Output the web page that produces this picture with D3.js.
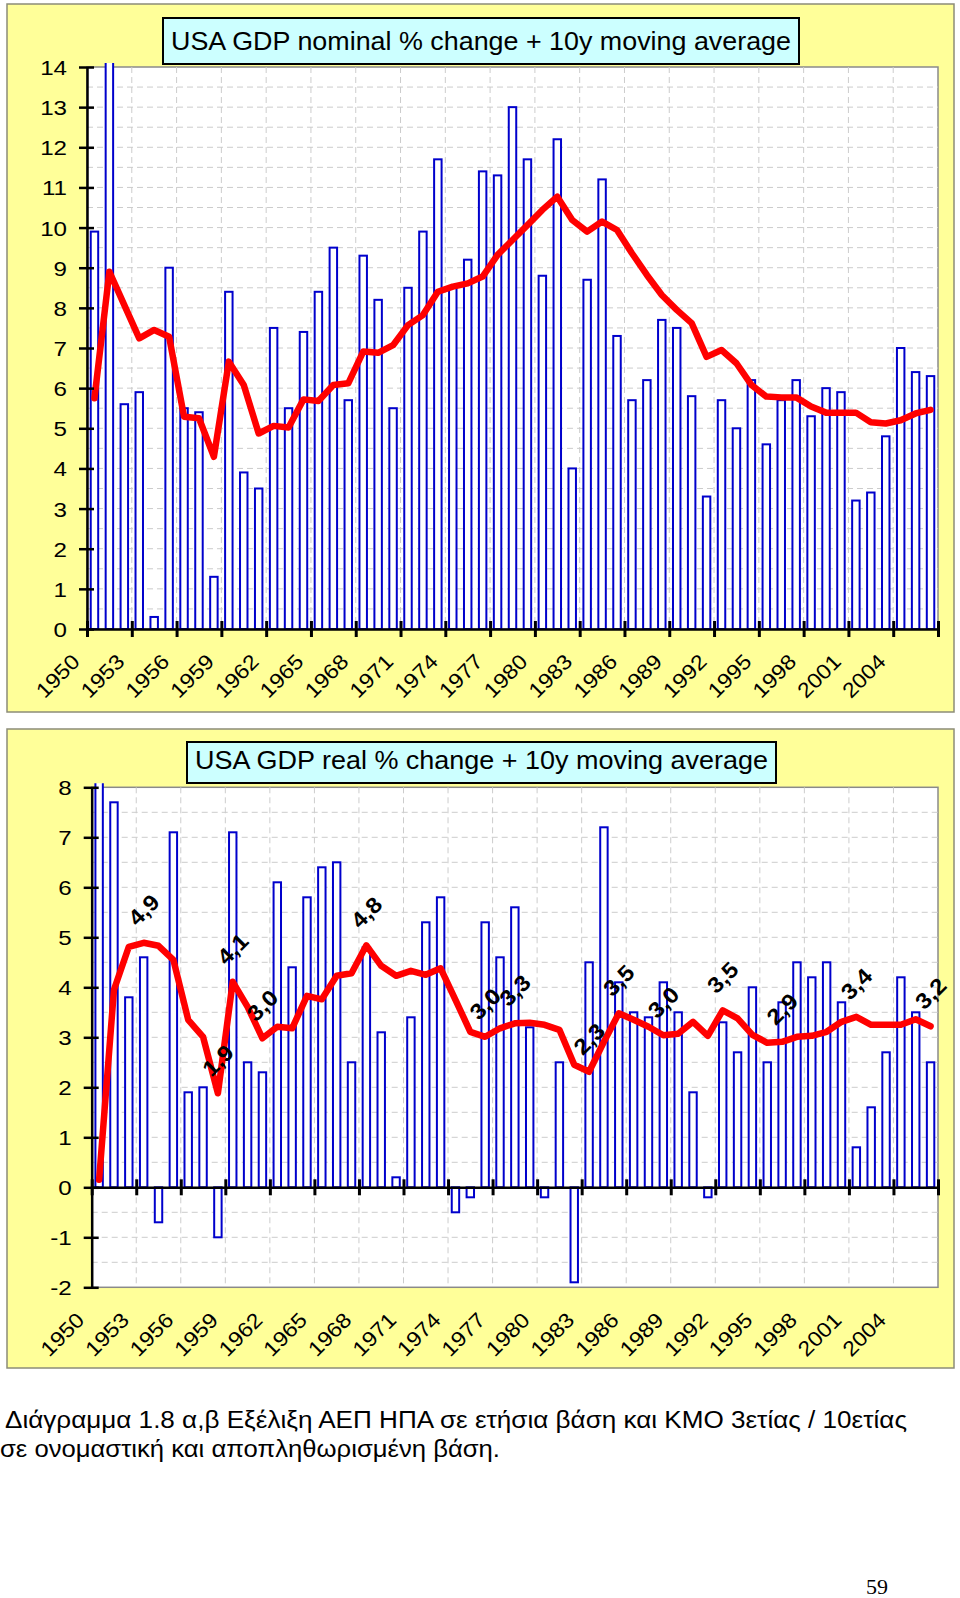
<!DOCTYPE html>
<html><head><meta charset="utf-8">
<script src="https://cdn.jsdelivr.net/npm/d3@7"></script>
<style>
body{margin:0;background:#fff}
svg{display:block}
text{font-family:"Liberation Sans",Arial,Helvetica,sans-serif;fill:#000}
</style>
</head><body>
<svg id="chart" width="960" height="1598"></svg>
<script>
// ---------------- data ----------------
const years = d3.range(1950, 2007);
const yearTicks = [1950,1953,1956,1959,1962,1965,1968,1971,1974,1977,1980,1983,1986,1989,1992,1995,1998,2001,2004];
const nominalTicks = [0,1,2,3,4,5,6,7,8,9,10,11,12,13,14];
const realTicks = [-2,-1,0,1,2,3,4,5,6,7,8];

const nominalChange = [9.9,15.7,5.6,5.9,0.3,9.0,5.5,5.4,1.3,8.4,
  3.9,3.5,7.5,5.5,7.4,8.4,9.5,5.7,9.3,8.2,
  5.5,8.5,9.9,11.7,8.5,9.2,11.4,11.3,13.0,11.7,
  8.8,12.2,4.0,8.7,11.2,7.3,5.7,6.2,7.7,7.5,
  5.8,3.3,5.7,5.0,6.2,4.6,5.7,6.2,5.3,6.0,
  5.9,3.2,3.4,4.8,7.0,6.4,6.3];
const nominalMA = [5.75,8.9,8.07,7.24,7.45,7.28,5.29,5.25,4.29,6.66,
  6.08,4.87,5.06,5.02,5.72,5.68,6.08,6.12,6.91,6.88,
  7.07,7.57,7.82,8.4,8.53,8.61,8.78,9.32,9.69,10.06,
  10.44,10.77,10.19,9.9,10.15,9.94,9.36,8.82,8.32,7.95,
  7.62,6.78,6.95,6.62,6.08,5.79,5.77,5.77,5.54,5.39,
  5.39,5.39,5.15,5.12,5.2,5.37,5.46];

const realChange = [8.7,7.7,3.8,4.6,-0.7,7.1,1.9,2.0,-1.0,7.1,
  2.5,2.3,6.1,4.4,5.8,6.4,6.5,2.5,4.8,3.1,
  0.2,3.4,5.3,5.8,-0.5,-0.2,5.3,4.6,5.6,3.2,
  -0.2,2.5,-1.9,4.5,7.2,4.1,3.5,3.4,4.1,3.5,
  1.9,-0.2,3.3,2.7,4.0,2.5,3.7,4.5,4.2,4.5,
  3.7,0.8,1.6,2.7,4.2,3.5,2.5];
const realMA = [0.15,3.95,4.81,4.89,4.83,4.55,3.35,3.01,1.88,4.11,
  3.61,2.98,3.21,3.18,3.83,3.76,4.23,4.28,4.84,4.43,
  4.23,4.33,4.25,4.38,3.75,3.11,3.01,3.18,3.28,3.29,
  3.25,3.15,2.45,2.31,2.91,3.48,3.35,3.21,3.04,3.07,
  3.31,3.03,3.54,3.38,3.05,2.89,2.91,3.01,3.03,3.11,
  3.31,3.41,3.25,3.25,3.25,3.36,3.22];
const realLabelYears = [1953,1958,1959,1961,1968,1976,1978,1983,1985,1988,1992,1996,2001,2006];

const titleNominal = "USA GDP nominal % change + 10y moving average";
const titleReal = "USA GDP real % change + 10y moving average";
const captionLines = ["Διάγραμμα 1.8 α,β Εξέλιξη ΑΕΠ ΗΠΑ σε ετήσια βάση και ΚΜΟ 3ετίας / 10ετίας",
  "σε ονομαστική και αποπληθωρισμένη βάση."];
const pageNumber = "59";

// ---------------- drawing ----------------
const svg = d3.select("#chart");
const BAR = "#0000cc", LINE = "#ff0000", GRID = "#cccccc";

function drawChart(cfg, idx) {
  const g = svg.append("g");
  // panel
  g.append("rect").attr("x", cfg.panel[0]).attr("y", cfg.panel[1])
    .attr("width", cfg.panel[2] - cfg.panel[0]).attr("height", cfg.panel[3] - cfg.panel[1])
    .attr("fill", "#ffff99").attr("stroke", "#8c8c78").attr("stroke-width", 1.5);

  const L = cfg.plot[0], T = cfg.plot[1], R = cfg.plot[2], B = cfg.plot[3];
  const y = d3.scaleLinear().domain(cfg.domain).range([B, T]);
  const xb = d3.scaleBand().domain(years).range([L, R]).paddingInner(0.5).paddingOuter(0.25);
  const xl = d3.scaleLinear().domain([1950, 2007]).range([L, R]);

  // plot bg
  g.append("rect").attr("x", L).attr("y", T).attr("width", R - L).attr("height", B - T)
    .attr("fill", "#fff").attr("stroke", "#8a8a8a").attr("stroke-width", 1.5);

  // grid
  const hg = d3.range(cfg.domain[0] * 2, cfg.domain[1] * 2 + 1).map(d => d / 2)
    .filter(d => d !== 0 && d !== cfg.domain[0] && d !== cfg.domain[1]);
  g.append("g").selectAll("line").data(hg).join("line")
    .attr("x1", L).attr("x2", R).attr("y1", d => y(d)).attr("y2", d => y(d))
    .attr("stroke", GRID).attr("stroke-width", 1).attr("stroke-dasharray", "6,4");
  g.append("g").selectAll("line").data(yearTicks.slice(1)).join("line")
    .attr("x1", d => xl(d)).attr("x2", d => xl(d)).attr("y1", T).attr("y2", B)
    .attr("stroke", GRID).attr("stroke-width", 1).attr("stroke-dasharray", "6,4");

  // clip
  const cid = "clip" + idx;
  svg.append("defs").append("clipPath").attr("id", cid).append("rect")
    .attr("x", L).attr("y", T - 4).attr("width", R - L).attr("height", B - T + 4);

  // bars
  g.append("g").attr("clip-path", `url(#${cid})`).selectAll("rect").data(years).join("rect")
    .attr("x", d => xb(d)).attr("width", xb.bandwidth())
    .attr("y", (d, i) => y(Math.max(0, cfg.bars[i])))
    .attr("height", (d, i) => Math.abs(y(cfg.bars[i]) - y(0)))
    .attr("fill", "#fff").attr("stroke", BAR).attr("stroke-width", 2);

  // moving average line
  const line = d3.line().x((d, i) => xb(years[i]) + xb.bandwidth() / 2).y(d => y(d));
  g.append("path").datum(cfg.ma).attr("d", line).attr("fill", "none")
    .attr("stroke", LINE).attr("stroke-width", 6.5).attr("stroke-linejoin", "round").attr("stroke-linecap", "round");

  // y axis
  const ya = g.append("g").attr("transform", `translate(${L},0)`)
    .call(d3.axisLeft(y).tickValues(cfg.ticks).tickSizeInner(8).tickSizeOuter(0).tickFormat(d => String(d)));
  ya.select(".domain").attr("stroke", "#000").attr("stroke-width", 2.5);
  ya.selectAll(".tick line").attr("x1", 7).attr("stroke", "#000").attr("stroke-width", 2.5);
  ya.selectAll(".tick text").attr("x", null).attr("dy", "0.36em")
    .attr("transform", "translate(-20,0) scale(1.15,1)")
    .style("font-size", "21px").style("font-family", '"Liberation Sans",Arial,sans-serif');

  // x axis at zero
  const xa = g.append("g").attr("transform", `translate(0,${y(0)})`)
    .call(d3.axisBottom(xl).tickValues(d3.range(1950, 2008, 3)).tickSizeInner(8).tickSizeOuter(0).tickFormat(""));
  xa.select(".domain").attr("stroke", "#000").attr("stroke-width", 2.5);
  xa.selectAll(".tick line").attr("y1", -8).attr("stroke", "#000").attr("stroke-width", 3);

  // year labels
  g.append("g").selectAll("text").data(yearTicks).join("text")
    .attr("text-anchor", "end")
    .attr("transform", d => `translate(${xl(d) - 6},${B + 34}) rotate(-45) scale(1.1,1)`)
    .style("font-size", "21px").text(d => d);

  // title box
  g.append("rect").attr("x", cfg.tbox[0]).attr("y", cfg.tbox[1])
    .attr("width", cfg.tbox[2] - cfg.tbox[0]).attr("height", cfg.tbox[3] - cfg.tbox[1])
    .attr("fill", "#ccffff").attr("stroke", "#000").attr("stroke-width", 2);
  g.append("text").attr("x", cfg.ttext[0]).attr("y", cfg.ttext[1])
    .attr("textLength", cfg.ttext[2]).attr("lengthAdjust", "spacingAndGlyphs")
    .style("font-size", "25px").text(cfg.title);

  return {g, xb, y};
}

drawChart({
  panel: [7, 4, 954, 712], plot: [87, 67, 938, 629], domain: [0, 14], ticks: nominalTicks,
  bars: nominalChange, ma: nominalMA,
  tbox: [163, 18, 799, 64], ttext: [171, 49.5, 620], title: titleNominal
}, 0);

const real = drawChart({
  panel: [7, 729, 954, 1368], plot: [91.7, 787.3, 938, 1287.3], domain: [-2, 8], ticks: realTicks,
  bars: realChange, ma: realMA,
  tbox: [187, 742, 776, 783], ttext: [195, 769, 573], title: titleReal
}, 1);

// data labels on real MA line
const fmt = v => v.toFixed(1).replace(".", ",");
real.g.append("g").selectAll("text").data(realLabelYears).join("text")
  .attr("text-anchor", "middle").attr("dy", "0.35em")
  .attr("transform", d => {
    const i = years.indexOf(d);
    return `translate(${real.xb(d) + real.xb.bandwidth() / 2},${real.y(realMA[i]) - 33}) rotate(-45) scale(1.1,1)`;
  })
  .style("font-size", "22px").style("font-weight", "bold")
  .text(d => fmt(realMA[years.indexOf(d)]));

// caption
svg.append("text").attr("x", 5).attr("y", 1428).attr("textLength", 902).attr("lengthAdjust", "spacingAndGlyphs")
  .style("font-size", "23px").text(captionLines[0]);
svg.append("text").attr("x", 0).attr("y", 1457).attr("textLength", 500).attr("lengthAdjust", "spacingAndGlyphs")
  .style("font-size", "23px").text(captionLines[1]);
svg.append("text").attr("x", 866).attr("y", 1594)
  .style("font-family", '"Liberation Serif","DejaVu Serif",serif').style("font-size", "22px").text(pageNumber);
</script>
</body></html>
